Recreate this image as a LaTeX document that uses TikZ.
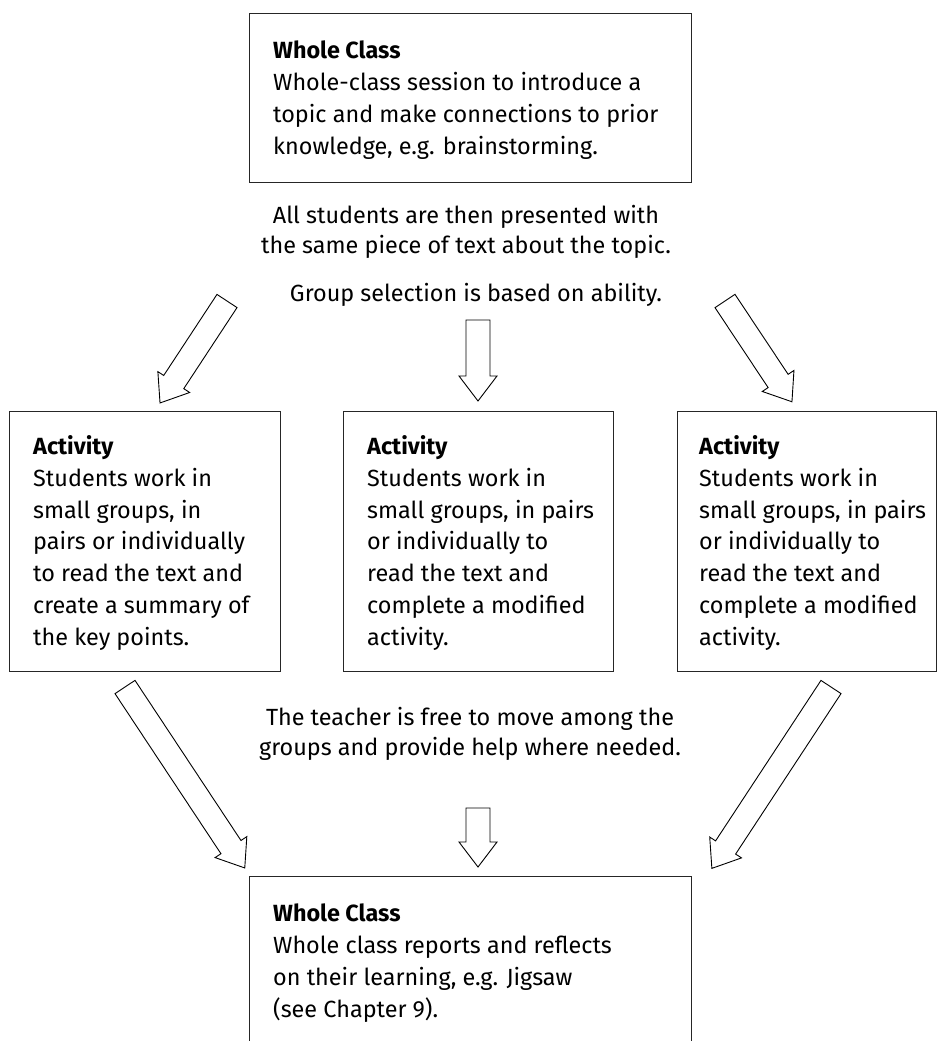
\documentclass[tikz,border=0pt]{standalone}
\usepackage{fontspec}
\setmainfont{Fira Sans}
\begin{document}
\begin{tikzpicture}[x=1pt,y=1pt,
  boxline/.style={draw=black!85, line width=1.3pt, inner sep=0pt, anchor=north west},
  boxtext/.style={anchor=base west, align=left, inner sep=0pt, font=\fontsize{23.4}{31.7}\selectfont},
  midtext/.style={anchor=base, align=center, inner sep=0pt, font=\fontsize{23.4}{30}\selectfont},
  arrowline/.style={draw=black, line width=0.9pt, fill=white, line join=miter},
  pics/barrow/.style={code={
    \draw[arrowline] (0,-12) -- (#1-25,-12) -- (#1-25,-19) -- (#1,0) -- (#1-25,19) -- (#1-25,12) -- (0,12) -- cycle;}}
]
\useasboundingbox (0,0) rectangle (937,-1041);

% boxes (text nodes are placed by the baseline of their last line)
\node[boxline, minimum width=442, minimum height=169] (top) at (249,-13) {};
\node[boxtext] (toptext) at (273,-154) {\textbf{Whole Class}\\Whole-class session to introduce a\\topic and make connections to prior\\knowledge, e.g. brainstorming.};

\node[boxline, minimum width=271, minimum height=260] (left) at (9,-411) {};
\node[boxtext] (lefttext) at (33,-645) {\textbf{Activity}\\Students work in\\small groups, in\\pairs or individually\\to read the text and\\create a summary of\\the key points.};

\node[boxline, minimum width=270, minimum height=260] (mid) at (343,-411) {};
\node[boxtext] (midtext) at (367,-645) {\textbf{Activity}\\Students work in\\small groups, in pairs\\or individually to\\read the text and\\complete a modified\\activity.};

\node[boxline, minimum width=259, minimum height=260] (right) at (677,-411) {};
\node[boxtext] (righttext) at (699,-645) {\textbf{Activity}\\Students work in\\small groups, in pairs\\or individually to\\read the text and\\complete a modified\\activity.};

\node[boxline, minimum width=442, minimum height=220] (bottom) at (249,-876) {};
\node[boxtext] (bottomtext) at (273,-1017) {\textbf{Whole Class}\\Whole class reports and reflects\\on their learning, e.g. Jigsaw\\(see Chapter 9).};

% middle texts
\node[midtext] (present) at (466,-253) {All students are then presented with\\the same piece of text about the topic.};
\node[midtext] (group) at (476,-301) {Group selection is based on ability.};
\node[midtext] (teacher) at (470,-755) {The teacher is free to move among the\\groups and provide help where needed.};

% arrows
\coordinate (a1) at (227,-301);
\coordinate (a2) at (478,-320);
\coordinate (a3) at (725,-301);
\coordinate (a4) at (125,-687);
\coordinate (a5) at (831,-687);
\coordinate (a6) at (478,-808);
\pic[rotate=-123.3] at (a1) {barrow=122};
\pic[rotate=-90] at (a2) {barrow=81};
\pic[rotate=-56.4] at (a3) {barrow=121};
\pic[rotate=-56.5] at (a4) {barrow=217};
\pic[rotate=-123.3] at (a5) {barrow=217};
\pic[rotate=-90] at (a6) {barrow=59};
\end{tikzpicture}
\end{document}
